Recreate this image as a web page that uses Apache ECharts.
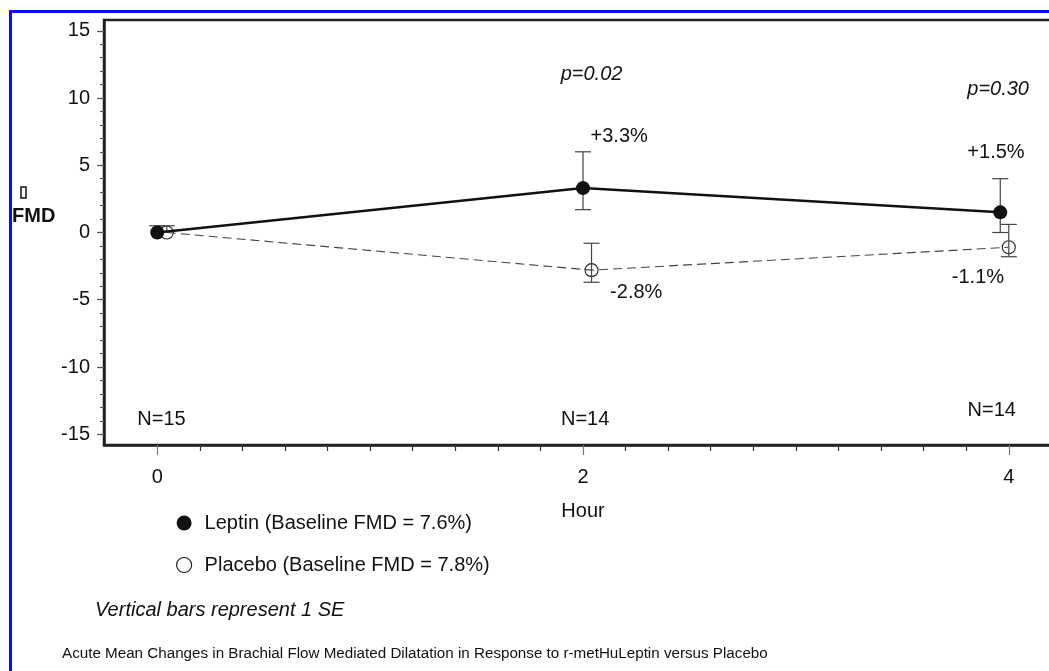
<!DOCTYPE html>
<html><head><meta charset="utf-8">
<script src="https://cdn.jsdelivr.net/npm/echarts@6/dist/echarts.min.js"></script>
<style>html,body{margin:0;padding:0;background:#fff}#c{width:1049px;height:671px}</style>
</head><body><div id="c"></div>
<script>
// ---- data ----
const hourTicks = [0, 2, 4];
const hourMinorTicks = [0.2, 0.4, 0.6, 0.8, 1.0, 1.2, 1.4, 1.6, 1.8, 2.2, 2.4, 2.6, 2.8, 3.0, 3.2, 3.4, 3.6, 3.8, 4.2];
const valueTicks = [-15, -10, -5, 0, 5, 10, 15];
const valueMinorTicks = [-15, -14, -13, -12, -11, -10, -9, -8, -7, -6, -5, -4, -3, -2, -1, 0, 1, 2, 3, 4, 5, 6, 7, 8, 9, 10, 11, 12, 13, 14, 15];

const leptinName = 'Leptin (Baseline FMD = 7.6%)';
const placeboName = 'Placebo (Baseline FMD = 7.8%)';

const leptinHours = [0, 2, 3.96];
const leptinMean = [0, 3.3, 1.5];
const leptinHigh = [0.5, 6.0, 4.0];
const leptinLow = [0, 1.7, 0.0];

const placeboHours = [0.045, 2.04, 4.0];
const placeboMean = [0, -2.8, -1.1];
const placeboHigh = [0.5, -0.8, 0.6];
const placeboLow = [0, -3.7, -1.8];

const noteText = ['p=0.02', 'p=0.30', '+3.3%', '+1.5%', '-2.8%', '-1.1%', 'N=15', 'N=14', 'N=14'];
const noteHour = [2.04, 3.95, 2.17, 3.94, 2.25, 3.855, 0.02, 2.01, 3.92];
const noteValue = [11.74, 10.63, 7.13, 5.93, -4.49, -3.37, -13.87, -13.87, -13.25];

// ---- chart ----
const FONT = "'Liberation Sans', Arial, Helvetica, sans-serif";
const TXT = '#111';

function errorSeries(name, hours, high, low, mean, z) {
  const data = hours.map((h, i) => [h, low[i], high[i], mean[i]]);
  return {
    type: 'custom', name: name + ' SE', z: z, silent: true,
    data: data,
    encode: { x: 0, y: [1, 2] },
    renderItem: function (params, api) {
      const x = api.value(0);
      const lo = api.coord([x, api.value(1)]);
      const hi = api.coord([x, api.value(2)]);
      const mid = api.coord([x, api.value(3)]);
      const half = 8;
      const children = [];
      const st = { stroke: '#444', lineWidth: 1.2 };
      children.push({ type: 'line', shape: { x1: hi[0], y1: hi[1], x2: lo[0], y2: lo[1] }, style: st });
      if (Math.abs(hi[1] - mid[1]) > 0.5)
        children.push({ type: 'line', shape: { x1: hi[0] - half, y1: hi[1], x2: hi[0] + half, y2: hi[1] }, style: st });
      if (Math.abs(lo[1] - mid[1]) > 0.5)
        children.push({ type: 'line', shape: { x1: lo[0] - half, y1: lo[1], x2: lo[0] + half, y2: lo[1] }, style: st });
      return { type: 'group', children: children };
    }
  };
}

const chart = echarts.init(document.getElementById('c'), null, { renderer: 'canvas' });
chart.setOption({
  animation: false,
  backgroundColor: '#fff',
  textStyle: { fontFamily: FONT },
  grid: {
    left: 104, top: 20, right: -13, bottom: 226,
    show: true, borderColor: '#222', borderWidth: 2.5, backgroundColor: 'transparent',
    containLabel: false, outerBoundsMode: 'none'
  },
  legend: {
    orient: 'vertical', left: 171, top: 508, itemGap: 22,
    itemWidth: 15, itemHeight: 15, icon: 'circle',
    textStyle: { fontSize: 20, color: TXT, fontFamily: FONT, padding: [0, 0, 0, 8] },
    data: [
      { name: leptinName, itemStyle: { color: '#111', borderWidth: 0 } },
      { name: placeboName, itemStyle: { color: '#fff', borderColor: '#222', borderWidth: 1.2 } }
    ]
  },
  xAxis: [{
    type: 'value', min: -0.25, max: 4.25, position: 'bottom',
    axisLine: { show: true, onZero: false, lineStyle: { color: '#222', width: 2.5 } },
    axisTick: { show: true, customValues: hourTicks, length: 10, lineStyle: { color: '#777', width: 1.2 } },
    axisLabel: { show: true, customValues: hourTicks, margin: 22, fontSize: 20, color: TXT, fontFamily: FONT },
    splitLine: { show: false },
    name: 'Hour', nameLocation: 'middle', nameGap: 56,
    nameTextStyle: { fontSize: 20, color: TXT, fontFamily: FONT }
  }, {
    type: 'value', min: -0.25, max: 4.25, position: 'bottom', offset: 0,
    axisLine: { show: false, onZero: false },
    axisTick: { show: true, customValues: hourMinorTicks, length: 6, lineStyle: { color: '#333', width: 1.2 } },
    axisLabel: { show: false },
    splitLine: { show: false }
  }],
  yAxis: [{
    type: 'value', min: -15.8, max: 15.8, position: 'left',
    axisLine: { show: true, onZero: false, lineStyle: { color: '#222', width: 2.5 } },
    axisTick: { show: true, customValues: valueTicks, length: 7, lineStyle: { color: '#555', width: 1.2 } },
    axisLabel: { show: true, customValues: valueTicks, margin: 14, fontSize: 20, color: TXT, fontFamily: FONT },
    splitLine: { show: false }
  }, {
    type: 'value', min: -15.8, max: 15.8, position: 'left', offset: 0,
    axisLine: { show: false, onZero: false },
    axisTick: { show: true, customValues: valueMinorTicks, length: 4, lineStyle: { color: '#555', width: 1.2 } },
    axisLabel: { show: false },
    splitLine: { show: false }
  }],
  graphic: [
    { type: 'rect', shape: { x: 10.5, y: 11.5, width: 1300, height: 900 }, style: { fill: 'none', stroke: '#0a0aff', lineWidth: 3 }, z: 100, silent: true },
    { type: 'text', left: 12, top: 206, style: { text: 'FMD', font: 'bold 20px ' + FONT, fill: TXT } },
    { type: 'rect', shape: { x: 21, y: 187, width: 5, height: 11 }, style: { fill: 'none', stroke: TXT, lineWidth: 1.5 } },
    { type: 'text', left: 95, top: 600, style: { text: 'Vertical bars represent 1 SE', font: 'italic 20px ' + FONT, fill: TXT } },
    { type: 'text', left: 62, top: 646, style: { text: 'Acute Mean Changes in Brachial Flow Mediated Dilatation in Response to r-metHuLeptin versus Placebo', font: '15.2px ' + FONT, fill: TXT } }
  ],
  series: [
    {
      type: 'line', name: placeboName, z: 3,
      data: placeboHours.map((h, i) => [h, placeboMean[i]]),
      lineStyle: { color: '#444', width: 1.1, type: [9, 5] },
      symbol: 'circle', symbolSize: 13, showSymbol: true,
      itemStyle: { color: 'rgba(255,255,255,0)', borderColor: '#222', borderWidth: 1.1 },
      emphasis: { disabled: true }
    },
    errorSeries(placeboName, placeboHours, placeboHigh, placeboLow, placeboMean, 4),
    errorSeries(leptinName, leptinHours, leptinHigh, leptinLow, leptinMean, 4),
    {
      type: 'line', name: leptinName, z: 5,
      data: leptinHours.map((h, i) => [h, leptinMean[i]]),
      lineStyle: { color: '#111', width: 2.5 },
      symbol: 'circle', symbolSize: 14, showSymbol: true,
      itemStyle: { color: '#111' },
      emphasis: { disabled: true }
    },
    {
      type: 'scatter', name: 'notes', z: 6, symbolSize: 0, silent: true,
      itemStyle: { opacity: 1 },
      data: noteText.map((t, i) => ({
        value: [noteHour[i], noteValue[i]], name: t,
        label: { fontStyle: t.indexOf('p=') === 0 ? 'italic' : 'normal' }
      })),
      label: {
        show: true, position: 'inside', formatter: p => p.name, opacity: 1,
        fontSize: 20, color: TXT, fontFamily: FONT
      }
    }
  ]
});
</script></body></html>
